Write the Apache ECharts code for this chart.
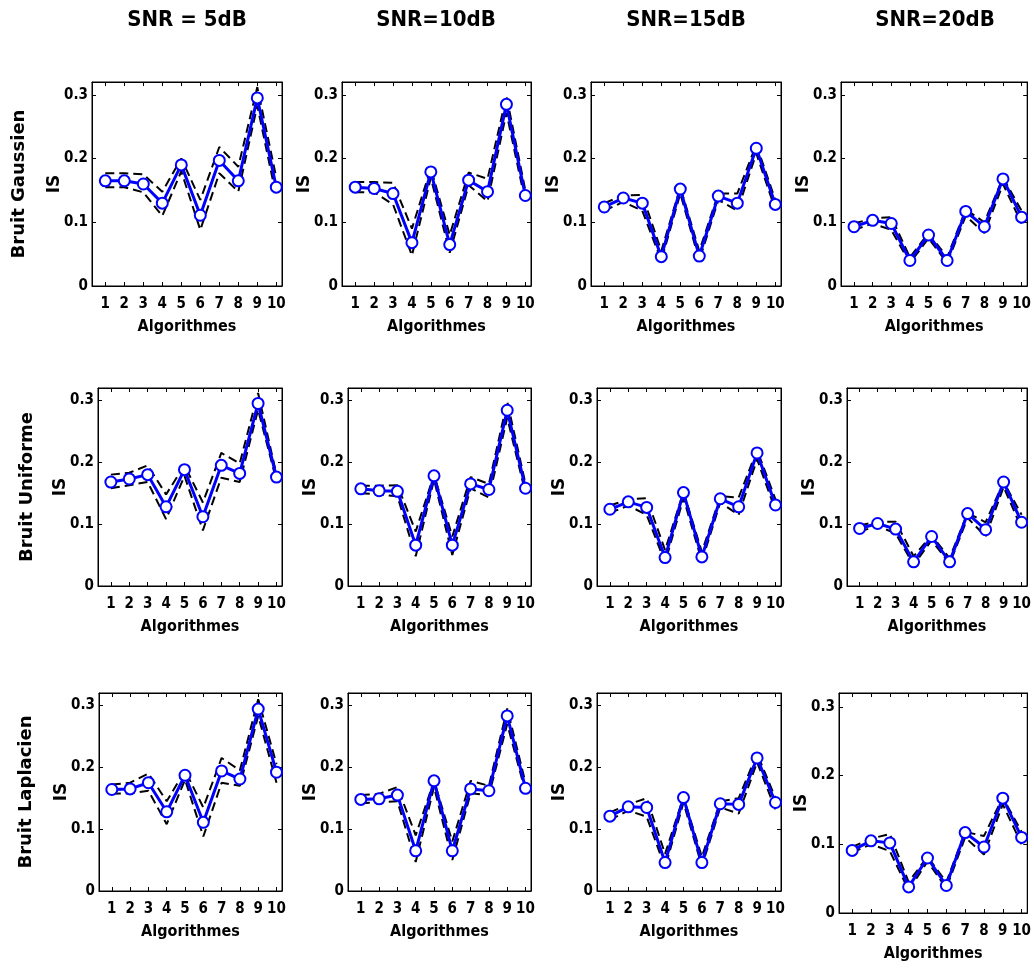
<!DOCTYPE html>
<html><head><meta charset="utf-8">
<script src="https://cdn.jsdelivr.net/npm/echarts@6/dist/echarts.min.js"></script>
<style>html,body{margin:0;padding:0;background:#fff}#c{width:1034px;height:968px}</style>
</head><body><div id="c"></div>
<script>
// ---------- data ----------
const categories = [1, 2, 3, 4, 5, 6, 7, 8, 9, 10];
const yTicks = [0, 0.1, 0.2, 0.3];
const snrLabels = ['SNR = 5dB', 'SNR=10dB', 'SNR=15dB', 'SNR=20dB'];
const noiseLabels = ['Bruit Gaussien', 'Bruit Uniforme', 'Bruit Laplacien'];
const xName = 'Algorithmes';
const yName = 'IS';

// Bruit Gaussien
const gauss5     = [0.165, 0.165, 0.160, 0.130, 0.190, 0.111, 0.197, 0.165, 0.295, 0.155];
const gauss5Up   = [0.177, 0.177, 0.175, 0.148, 0.200, 0.135, 0.218, 0.187, 0.312, 0.170];
const gauss5Low  = [0.155, 0.155, 0.147, 0.110, 0.180, 0.088, 0.177, 0.148, 0.283, 0.140];
const gauss10    = [0.155, 0.153, 0.145, 0.068, 0.179, 0.065, 0.166, 0.148, 0.285, 0.142];
const gauss10Up  = [0.163, 0.163, 0.162, 0.090, 0.185, 0.080, 0.178, 0.168, 0.298, 0.150];
const gauss10Low = [0.147, 0.147, 0.128, 0.048, 0.170, 0.052, 0.158, 0.133, 0.272, 0.132];
const gauss15    = [0.124, 0.138, 0.130, 0.046, 0.152, 0.047, 0.141, 0.130, 0.216, 0.128];
const gauss15Up  = [0.130, 0.142, 0.143, 0.055, 0.155, 0.055, 0.145, 0.145, 0.222, 0.135];
const gauss15Low = [0.118, 0.132, 0.118, 0.040, 0.145, 0.040, 0.135, 0.118, 0.208, 0.120];
const gauss20    = [0.093, 0.103, 0.098, 0.040, 0.080, 0.040, 0.117, 0.093, 0.168, 0.108];
const gauss20Up  = [0.098, 0.106, 0.108, 0.045, 0.083, 0.045, 0.120, 0.100, 0.170, 0.118];
const gauss20Low = [0.088, 0.098, 0.088, 0.036, 0.075, 0.036, 0.110, 0.083, 0.160, 0.098];

// Bruit Uniforme
const unif5      = [0.168, 0.173, 0.180, 0.128, 0.188, 0.112, 0.195, 0.182, 0.295, 0.176];
const unif5Up    = [0.180, 0.183, 0.195, 0.148, 0.195, 0.135, 0.215, 0.198, 0.312, 0.180];
const unif5Low   = [0.158, 0.163, 0.168, 0.108, 0.178, 0.090, 0.175, 0.168, 0.285, 0.170];
const unif10     = [0.157, 0.154, 0.153, 0.066, 0.178, 0.066, 0.165, 0.156, 0.284, 0.158];
const unif10Up   = [0.162, 0.162, 0.163, 0.088, 0.180, 0.080, 0.176, 0.165, 0.298, 0.165];
const unif10Low  = [0.150, 0.148, 0.145, 0.048, 0.172, 0.050, 0.158, 0.143, 0.272, 0.150];
const unif15     = [0.124, 0.136, 0.127, 0.046, 0.151, 0.047, 0.141, 0.128, 0.215, 0.131];
const unif15Up   = [0.130, 0.140, 0.142, 0.058, 0.152, 0.055, 0.145, 0.143, 0.220, 0.140];
const unif15Low  = [0.118, 0.130, 0.115, 0.038, 0.142, 0.040, 0.135, 0.115, 0.205, 0.122];
const unif20     = [0.093, 0.101, 0.092, 0.039, 0.080, 0.039, 0.117, 0.091, 0.168, 0.103];
const unif20Up   = [0.098, 0.104, 0.104, 0.048, 0.082, 0.045, 0.118, 0.103, 0.168, 0.115];
const unif20Low  = [0.088, 0.097, 0.085, 0.034, 0.074, 0.036, 0.110, 0.080, 0.160, 0.093];

// Bruit Laplacien
const lap5       = [0.164, 0.165, 0.175, 0.128, 0.187, 0.111, 0.194, 0.181, 0.294, 0.192];
const lap5Up     = [0.172, 0.175, 0.190, 0.145, 0.195, 0.135, 0.215, 0.195, 0.310, 0.205];
const lap5Low    = [0.157, 0.158, 0.162, 0.108, 0.180, 0.088, 0.175, 0.170, 0.283, 0.175];
const lap10      = [0.148, 0.149, 0.155, 0.065, 0.178, 0.065, 0.165, 0.162, 0.283, 0.166];
const lap10Up    = [0.155, 0.157, 0.168, 0.090, 0.178, 0.080, 0.178, 0.170, 0.295, 0.175];
const lap10Low   = [0.142, 0.143, 0.145, 0.047, 0.168, 0.050, 0.158, 0.155, 0.270, 0.160];
const lap15      = [0.121, 0.136, 0.135, 0.046, 0.151, 0.046, 0.141, 0.140, 0.215, 0.143];
const lap15Up    = [0.127, 0.140, 0.150, 0.060, 0.152, 0.055, 0.145, 0.150, 0.222, 0.150];
const lap15Low   = [0.115, 0.130, 0.120, 0.038, 0.143, 0.040, 0.135, 0.125, 0.208, 0.132];
const lap20      = [0.091, 0.105, 0.102, 0.038, 0.080, 0.040, 0.117, 0.096, 0.167, 0.110];
const lap20Up    = [0.096, 0.108, 0.115, 0.045, 0.082, 0.045, 0.118, 0.112, 0.168, 0.118];
const lap20Low   = [0.088, 0.100, 0.090, 0.033, 0.075, 0.036, 0.110, 0.085, 0.158, 0.100];

// ---------- layout ----------
const rowsLayout = [
  { top: 82,  height: 204, lefts: [92, 342, 591, 841], widths: [190, 189, 190, 189] },
  { top: 388, height: 198, lefts: [98, 348, 597, 847], widths: [184, 183, 184, 183] },
  { top: 693, height: 198, lefts: [99, 348, 597, 839], widths: [183, 183, 184, 190] }
];
const specialCell = { row: 2, col: 3, height: 220 };
const titleX = [187, 436, 686, 935];
const titleY = 20;
const rowLabelPos = [[19, 184], [27, 487], [26, 792]];

const NARROW = "'Liberation Sans Narrow','DejaVu Sans Condensed','Arial Narrow',Arial,sans-serif";
const WIDE = "'DejaVu Sans',Verdana,sans-serif";

const panelData = [
  [[gauss5, gauss5Up, gauss5Low], [gauss10, gauss10Up, gauss10Low], [gauss15, gauss15Up, gauss15Low], [gauss20, gauss20Up, gauss20Low]],
  [[unif5, unif5Up, unif5Low], [unif10, unif10Up, unif10Low], [unif15, unif15Up, unif15Low], [unif20, unif20Up, unif20Low]],
  [[lap5, lap5Up, lap5Low], [lap10, lap10Up, lap10Low], [lap15, lap15Up, lap15Low], [lap20, lap20Up, lap20Low]]
];

const pairs = vals => categories.map((c, i) => [c, vals[i]]);

const grids = [], xAxes = [], yAxes = [], series = [];
let gi = 0;
for (let r = 0; r < 3; r++) {
  for (let c = 0; c < 4; c++) {
    const L = rowsLayout[r];
    let h = L.height;
    if (r === specialCell.row && c === specialCell.col) h = specialCell.height;
    grids.push({ left: L.lefts[c], top: L.top, width: L.widths[c], height: h,
      show: true, borderColor: '#000', borderWidth: 1, backgroundColor: '#fff' });
    const tickStyle = { color: '#000', width: 1 };
    xAxes.push({
      gridIndex: gi, type: 'value', min: 0.3, max: 10.3, position: 'bottom',
      axisLine: { show: true, onZero: false, lineStyle: { color: '#000', width: 1 } },
      axisTick: { show: true, inside: true, length: 4, customValues: categories, lineStyle: tickStyle },
      axisLabel: { show: true, customValues: categories, margin: 11, color: '#000',
        fontFamily: NARROW, fontWeight: 'bold', fontSize: 15 },
      splitLine: { show: false },
      name: xName, nameLocation: 'middle', nameGap: 33, nameMoveOverlap: false,
      nameTextStyle: { color: '#000', fontFamily: NARROW, fontWeight: 'bold', fontSize: 16 }
    });
    xAxes.push({
      gridIndex: gi, type: 'value', min: 0.3, max: 10.3, position: 'top',
      axisLine: { show: true, onZero: false, lineStyle: { color: '#000', width: 1 } },
      axisTick: { show: true, inside: true, length: 4, customValues: categories, lineStyle: tickStyle },
      axisLabel: { show: false }, splitLine: { show: false }
    });
    yAxes.push({
      gridIndex: gi, type: 'value', min: 0, max: 0.32, position: 'left',
      axisLine: { show: true, onZero: false, lineStyle: { color: '#000', width: 1 } },
      axisTick: { show: true, inside: true, length: 4, customValues: yTicks, lineStyle: tickStyle },
      axisLabel: { show: true, customValues: yTicks, margin: 4, color: '#000',
        fontFamily: NARROW, fontWeight: 'bold', fontSize: 15,
        formatter: v => (v === 0 ? '0' : v.toFixed(1)) },
      splitLine: { show: false },
      name: yName, nameLocation: 'middle', nameGap: 29, nameMoveOverlap: false,
      nameTextStyle: { color: '#000', fontFamily: WIDE, fontWeight: 'bold', fontSize: 17 }
    });
    yAxes.push({
      gridIndex: gi, type: 'value', min: 0, max: 0.32, position: 'right',
      axisLine: { show: true, onZero: false, lineStyle: { color: '#000', width: 1 } },
      axisTick: { show: true, inside: true, length: 4, customValues: yTicks, lineStyle: tickStyle },
      axisLabel: { show: false }, splitLine: { show: false }
    });
    const [mean, up, low] = panelData[r][c];
    const dashed = { color: '#000', width: 2, type: [9, 5] };
    [up, low].forEach(arr => series.push({
      type: 'line', xAxisIndex: 2 * gi, yAxisIndex: 2 * gi, data: pairs(arr),
      symbol: 'none', lineStyle: dashed, z: 2, silent: true, emphasis: { disabled: true }
    }));
    series.push({
      type: 'line', xAxisIndex: 2 * gi, yAxisIndex: 2 * gi, data: pairs(mean),
      symbol: 'emptyCircle', symbolSize: 11,
      itemStyle: { color: '#0000ff', borderColor: '#0000ff', borderWidth: 3 },
      lineStyle: { color: '#0000ff', width: 3 }, z: 3, silent: true, emphasis: { disabled: true }
    });
    gi++;
  }
}

const graphics = [];
snrLabels.forEach((t, i) => graphics.push({
  type: 'text', x: titleX[i], y: titleY,
  style: { text: t, fill: '#000', font: "bold 22px " + NARROW, align: 'center', verticalAlign: 'middle' }
}));
noiseLabels.forEach((t, i) => graphics.push({
  type: 'text', x: rowLabelPos[i][0], y: rowLabelPos[i][1], rotation: Math.PI / 2,
  style: { text: t, fill: '#000', font: "bold 18px " + WIDE, align: 'center', verticalAlign: 'middle' }
}));

const chart = echarts.init(document.getElementById('c'), null, { renderer: 'canvas' });
chart.setOption({
  animation: false,
  backgroundColor: '#fff',
  grid: grids, xAxis: xAxes, yAxis: yAxes, series: series,
  graphic: graphics
});
</script></body></html>
